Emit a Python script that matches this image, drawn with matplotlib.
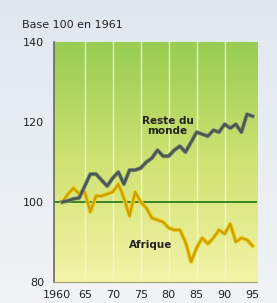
import numpy as np
import matplotlib.pyplot as plt
from matplotlib.colors import LinearSegmentedColormap

# Indices, base 100 en 1961
years = list(range(1961, 1996))
reste_du_monde = [100, 100.3, 100.8, 101, 104, 107, 107, 105.5, 104, 106,
                  107.5, 104.5, 108, 108, 108.5, 110, 111, 113, 111.5, 111.5,
                  113, 114, 112.5, 115, 117.5, 117, 116.5, 118, 117.5, 119.5,
                  118.5, 119.5, 117.5, 122, 121.5]
afrique = [100, 102, 103.5, 102, 102.5, 97.5, 101.5, 101.5, 102, 102.5,
           104.5, 101, 96.5, 102.5, 100, 98.5, 96, 95.5, 95, 93.5,
           93, 93, 90, 85, 88.5, 91, 89.5, 91, 93, 92,
           94.5, 90, 91, 90.5, 89]
xticks = [1960, 1965, 1970, 1975, 1980, 1985, 1990, 1995]
xtick_labels = ['1960', '65', '70', '75', '80', '85', '90', '95']
yticks = [80, 100, 120, 140]

fig = plt.figure(figsize=(2.77, 3.03), dpi=100)

# fond de la figure (dégradé bleu-gris)
bg = fig.add_axes([0, 0, 1, 1])
bg.imshow(np.linspace(0, 1, 100).reshape(-1, 1), aspect='auto',
          cmap=LinearSegmentedColormap.from_list('bg', ['#e0e8ef', '#f1f3f5']),
          extent=[0, 1, 0, 1])
bg.axis('off')

ax = fig.add_axes([0.195, 0.07, 0.733, 0.79])
xmin, xmax, ymin, ymax = 1959.5, 1995.8, 80, 140
grad = LinearSegmentedColormap.from_list('g', ['#98cc52', '#d0e272', '#f4f4a8'])
ax.imshow(np.linspace(0, 1, 200).reshape(-1, 1), aspect='auto', cmap=grad,
          extent=[xmin, xmax, ymin, ymax], zorder=0)

for x in xticks[1:-1]:
    ax.axvline(x, color='#f4f8dc', lw=1.0, alpha=0.8, zorder=1)
ax.axhline(100, color='#2e7d1e', lw=1.3, zorder=2)

ax.plot(years, afrique, color='#f0d020', lw=3.0, zorder=3)
ax.plot(years, afrique, color='#c9a000', lw=1.6, zorder=3)
ax.plot(years, reste_du_monde, color='#8a9a80', lw=3.0, zorder=4)
ax.plot(years, reste_du_monde, color='#4c574d', lw=1.9, zorder=4)

ax.text(1979.8, 119.0, 'Reste du\nmonde', ha='center', va='center', fontsize=7.5,
        color='#222222', fontweight='bold', linespacing=0.95, zorder=5)
ax.text(1976.8, 89.3, 'Afrique', ha='center', va='center', fontsize=7.5,
        color='#222222', fontweight='bold', zorder=5)

ax.set_xlim(xmin, xmax)
ax.set_ylim(ymin, ymax)
ax.set_xticks(xticks)
ax.set_xticklabels(xtick_labels)
ax.set_yticks(yticks)
ax.tick_params(length=0, labelsize=8, colors='#222222')
ax.tick_params(axis='y', pad=7)
ax.tick_params(axis='x', pad=6)
for side in ['top', 'right']:
    ax.spines[side].set_visible(False)
ax.spines['left'].set_color('#6a6a6a')
ax.spines['left'].set_linewidth(1.2)
ax.spines['bottom'].set_color('#9aa070')
ax.spines['bottom'].set_linewidth(0.8)

fig.text(0.08, 0.918, 'Base 100 en 1961', fontsize=8, color='#222222', va='center')

fig.savefig('out.png', dpi=100)
